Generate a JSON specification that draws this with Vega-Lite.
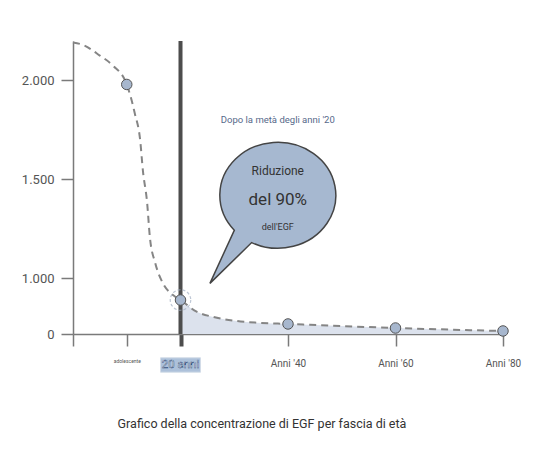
{
  "$schema": "https://vega.github.io/schema/vega-lite/v6.json",
  "width": 430,
  "height": 293,
  "autosize": {"type": "none"},
  "padding": {"left": 73, "top": 41, "right": 30, "bottom": 140},
  "background": "white",
  "config": {
    "view": {"stroke": null},
    "font": "Roboto",
    "axis": {"grid": false}
  },
  "title": {
    "text": "Grafico della concentrazione di EGF per fascia di età",
    "orient": "bottom",
    "anchor": "middle",
    "dx": -26,
    "offset": 44,
    "fontSize": 12.5,
    "fontWeight": "normal",
    "color": "#333333",
    "font": "Roboto"
  },
  "data": {"values": [{}]},
  "datasets": {
    "curve": [
      {"age": 0, "egf": 2192},
      {"age": 1.7, "egf": 2182},
      {"age": 5, "egf": 2126},
      {"age": 7.4, "egf": 2076},
      {"age": 10, "egf": 1980},
      {"age": 11.5, "egf": 1833},
      {"age": 12.5, "egf": 1697},
      {"age": 13, "egf": 1545},
      {"age": 13.8, "egf": 1379},
      {"age": 14.3, "egf": 1207},
      {"age": 15.3, "egf": 1076},
      {"age": 16.7, "egf": 911},
      {"age": 18.6, "egf": 696},
      {"age": 20, "egf": 607},
      {"age": 23, "egf": 398},
      {"age": 26.1, "egf": 304},
      {"age": 30.5, "egf": 232},
      {"age": 34.2, "egf": 202},
      {"age": 40, "egf": 179},
      {"age": 60, "egf": 107},
      {"age": 80, "egf": 54}
    ],
    "points": [
      {"age": 10, "egf": 1980},
      {"age": 20, "egf": 607},
      {"age": 40, "egf": 179},
      {"age": 60, "egf": 107},
      {"age": 80, "egf": 54}
    ]
  },
  "layer": [
    {
      "data": {"name": "curve"},
      "transform": [{"filter": "datum.age >= 20"}],
      "mark": {"type": "area", "interpolate": "monotone", "fill": "#dce2ed"},
      "encoding": {
        "x": {
          "field": "age", "type": "quantitative",
          "scale": {"domain": [0, 80], "nice": false, "zero": false},
          "axis": {
            "title": null,
            "values": [0, 10, 20, 40, 60, 80],
            "labelExpr": "datum.value == 10 ? 'adolescente' : datum.value == 40 ? \"Anni '40\" : datum.value == 60 ? \"Anni '60\" : datum.value == 80 ? \"Anni '80\" : ''",
            "labelFontSize": {"condition": {"test": "datum.value == 10", "value": 5}, "value": 10},
            "labelColor": "#555555",
            "labelPadding": 12,
            "labelFlush": false,
            "labelOverlap": false,
            "tickSize": 12,
            "tickColor": {"condition": {"test": "datum.value == 20", "value": "#4d4d4d"}, "value": "#7a7a7a"},
            "tickWidth": {"condition": {"test": "datum.value == 20", "value": 4}, "value": 1.5},
            "domainColor": "#7a7a7a",
            "domainWidth": 1.5
          }
        },
        "y": {
          "field": "egf", "type": "quantitative",
          "scale": {"domain": [0, 1000, 2200], "range": [293, 237, 0], "nice": false, "zero": false},
          "axis": {
            "title": null,
            "values": [0, 1000, 1500, 2000],
            "labelExpr": "replace(format(datum.value, ','), ',', '.')",
            "labelFontSize": 13,
            "labelColor": "#555555",
            "labelPadding": 7,
            "tickSize": 12,
            "tickColor": "#7a7a7a",
            "tickWidth": 1.5,
            "domainColor": "#7a7a7a",
            "domainWidth": 1.5
          }
        }
      }
    },
    {
      "data": {"name": "curve"},
      "mark": {"type": "line", "interpolate": "monotone", "stroke": "#858585", "strokeWidth": 2, "strokeDash": [7, 5]},
      "encoding": {
        "x": {"field": "age", "type": "quantitative"},
        "y": {"field": "egf", "type": "quantitative"}
      }
    },
    {
      "mark": {"type": "rule", "stroke": "#4d4d4d", "strokeWidth": 4},
      "encoding": {"x": {"datum": 20, "type": "quantitative"}}
    },
    {
      "mark": {"type": "point", "shape": "circle", "filled": false, "size": 420, "stroke": "#a3b0c4", "strokeWidth": 1.2, "strokeDash": [3, 2]},
      "encoding": {
        "x": {"datum": 20, "type": "quantitative"},
        "y": {"datum": 607, "type": "quantitative"}
      }
    },
    {
      "data": {"name": "points"},
      "mark": {"type": "point", "shape": "circle", "filled": true, "size": 110, "fill": "#a7b7ce", "stroke": "#555555", "strokeWidth": 1, "opacity": 1},
      "encoding": {
        "x": {"field": "age", "type": "quantitative"},
        "y": {"field": "egf", "type": "quantitative"}
      }
    },
    {
      "mark": {"type": "point", "shape": "M -0.45 0.816 A 1 0.914 0 1 0 -0.75 0.604 L -1.17 1.52 Z", "filled": true, "size": 13456, "fill": "#a6b8d0", "stroke": "#444444", "strokeWidth": 1.5, "opacity": 1},
      "encoding": {
        "x": {"datum": 38.1, "type": "quantitative"},
        "y": {"datum": 1419, "type": "quantitative"}
      }
    },
    {
      "mark": {"type": "text", "text": "Dopo la metà degli anni '20", "fontSize": 9.5, "fill": "#56698a", "align": "center", "baseline": "middle"},
      "encoding": {
        "x": {"datum": 38.1, "type": "quantitative"},
        "y": {"datum": 1798, "type": "quantitative"}
      }
    },
    {
      "mark": {"type": "text", "text": "Riduzione", "fontSize": 12, "fill": "#333333", "align": "center", "baseline": "middle"},
      "encoding": {
        "x": {"datum": 38.1, "type": "quantitative"},
        "y": {"datum": 1540, "type": "quantitative"}
      }
    },
    {
      "mark": {"type": "text", "text": "del 90%", "fontSize": 17, "fill": "#333333", "align": "center", "baseline": "middle"},
      "encoding": {
        "x": {"datum": 38.1, "type": "quantitative"},
        "y": {"datum": 1394, "type": "quantitative"}
      }
    },
    {
      "mark": {"type": "text", "text": "dell'EGF", "fontSize": 9, "fill": "#333333", "align": "center", "baseline": "middle"},
      "encoding": {
        "x": {"datum": 38.1, "type": "quantitative"},
        "y": {"datum": 1258, "type": "quantitative"}
      }
    },
    {
      "mark": {"type": "point", "shape": "M -1 -0.36 L 1 -0.36 L 1 0.36 L -1 0.36 Z", "filled": true, "size": 1600, "fill": "#adc1da", "stroke": "#d3dce8", "strokeWidth": 1, "opacity": 1, "yOffset": 31},
      "encoding": {
        "x": {"datum": 20, "type": "quantitative"},
        "y": {"datum": 0, "type": "quantitative"}
      }
    },
    {
      "mark": {"type": "text", "text": "20 anni", "fontSize": 11.5, "fontWeight": "normal", "fill": "#ffffff", "stroke": "#2c4a78", "strokeWidth": 0.45, "align": "center", "baseline": "middle", "yOffset": 31},
      "encoding": {
        "x": {"datum": 20, "type": "quantitative"},
        "y": {"datum": 0, "type": "quantitative"}
      }
    }
  ]
}
